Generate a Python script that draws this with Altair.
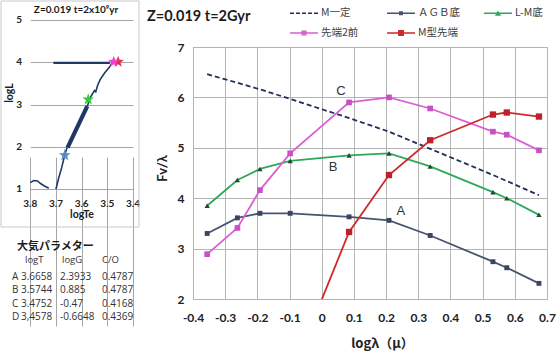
import altair as alt
import pandas as pd

# ---------------- main chart data ----------------
lam = [-0.356, -0.262, -0.192, -0.098, 0.085, 0.209, 0.337, 0.532, 0.575, 0.675]
m_const = [6.46, 6.29, 6.16, 5.97, 5.59, 5.32, 4.98, 4.46, 4.34, 4.06]
agb_base = [3.30, 3.61, 3.70, 3.70, 3.63, 3.56, 3.26, 2.74, 2.62, 2.31]
lm_base = [3.85, 4.36, 4.58, 4.74, 4.85, 4.89, 4.63, 4.12, 4.00, 3.67]
tip_before2 = [2.89, 3.41, 4.16, 4.89, 5.90, 6.00, 5.78, 5.32, 5.26, 4.95]
mtip_lam = [-0.098, 0.085, 0.209, 0.337, 0.532, 0.575, 0.675]
m_tip = [0.44, 3.33, 4.46, 5.15, 5.66, 5.70, 5.62]

series_names = ["M一定", "ＡＧＢ底", "L-M底", "先端2前", "M型先端"]
series_colors = ["#1f2f5a", "#46556f", "#2ea85a", "#d95fd2", "#cc2a2a"]
marker_colors = ["#1f2f5a", "#3a4560", "#1e4d2b", "#c94fc4", "#c0202a"]

x_ticks = [-0.4, -0.3, -0.2, -0.1, 0.0, 0.1, 0.2, 0.3, 0.4, 0.5, 0.6, 0.7]
y_ticks = [2, 3, 4, 5, 6, 7]

curve_labels = ["A", "B", "C"]
curve_label_x = [0.246, 0.035, 0.06]
curve_label_y = [3.746, 4.62, 6.127]

main_title = "Z=0.019  t=2Gyr"

# ---------------- HR diagram data ----------------
hook_te = [3.800, 3.786, 3.772, 3.760, 3.745, 3.728]
hook_l = [1.15, 1.20, 1.19, 1.13, 1.07, 1.02]
track_te = [3.700, 3.690, 3.678, 3.668, 3.657]
track_l = [1.00, 1.25, 1.50, 1.75, 1.98]
thick_te = [3.655, 3.578]
thick_l = [1.98, 2.96]
upper_te = [3.578, 3.565, 3.550, 3.545, 3.538, 3.528, 3.510, 3.492, 3.480]
upper_l = [2.96, 3.18, 3.33, 3.30, 3.45, 3.59, 3.75, 3.88, 4.00]
horiz_te = [3.710, 3.490]
horiz_l = [3.985, 3.985]
star_names = ["A", "B", "C", "D"]
star_te = [3.6658, 3.5744, 3.4752, 3.4578]
star_l = [1.80, 3.12, 4.01, 4.01]
star_colors = ["#5a8ac6", "#33cc33", "#ee3fd8", "#e0303c"]
hr_x_ticks = [3.8, 3.7, 3.6, 3.5, 3.4]
hr_x_labels = ["3.8", "3.7", "3.6", "3.5", "3.4"]
hr_y_ticks = [1, 2, 3, 4, 5]
hr_y_labels = ["1", "2", "3", "4", "5"]
hr_title = "Z=0.019 t=2x10⁹yr"

# ---------------- parameter table ----------------
param_heading = "大気パラメター"
param_header = ["logT", "logG", "C/O"]
param_names = ["A", "B", "C", "D"]
param_logT = ["3.6658", "3.5744", "3.4752", "3,4578"]
param_logG = ["2.3933", "0.885", "-0.47", "-0.6648"]
param_CO = ["0.4787", "0.4787", "0.4168", "0.4369"]

# ---------------- build tables ----------------
rows = []
for name, vals, xs_ in [
    (series_names[0], m_const, lam),
    (series_names[1], agb_base, lam),
    (series_names[2], lm_base, lam),
    (series_names[3], tip_before2, lam),
    (series_names[4], m_tip, mtip_lam),
]:
    for xv, yv in zip(xs_, vals):
        rows.append({"series": name, "lam": xv, "fv": yv})
main_df = pd.DataFrame(rows)
label_df = pd.DataFrame({"lab": curve_labels, "lam": curve_label_x, "fv": curve_label_y})

JP = "Noto Sans CJK JP"
NUM = "Lato"

x_axis = alt.Axis(values=x_ticks, labelExpr="datum.value == 0 ? '0' : toString(round(datum.value*10)/10)",
                  grid=True, gridColor="#b4b4b4", ticks=False, domain=False, labelFlush=False,
                  labelFont=NUM, labelFontWeight="bold", labelFontSize=12, labelColor="#222222",
                  labelPadding=13, title="logλ（μ）", titleFont=JP, titleFontSize=13,
                  titleFontWeight="bold", titleColor="#222222", titleX=189, titleY=44,
                  titleBaseline="middle", titleAlign="center")
y_axis = alt.Axis(values=y_ticks, grid=True, gridColor="#b4b4b4", ticks=False, domain=False,
                  labelFont=NUM, labelFontWeight="bold", labelFontSize=12, labelColor="#222222",
                  labelPadding=9, labelFlush=False, title="Fv/λ", titleFont=NUM, titleFontSize=13,
                  titleFontWeight="bold", titleColor="#222222", titleX=-31, titleY=121,
                  titleAngle=270, titleAlign="center", titleBaseline="middle")
xs = alt.Scale(domain=[-0.4, 0.7], nice=False, zero=False)
ys = alt.Scale(domain=[2, 7], nice=False, zero=False)
X = alt.X("lam:Q", scale=xs, axis=x_axis)
Y = alt.Y("fv:Q", scale=ys, axis=y_axis)

main_layers = []
for i, name in enumerate(series_names):
    kw = dict(color=series_colors[i], strokeWidth=1.8, clip=True)
    if i == 0:
        kw["strokeDash"] = [5, 3]
    main_layers.append(
        alt.Chart(main_df).mark_line(**kw).encode(x=X, y=Y).transform_filter(alt.datum.series == name)
    )
marker_sizes = {1: 24, 3: 32, 4: 40}
for i, sz in marker_sizes.items():
    main_layers.append(
        alt.Chart(main_df).mark_square(color=marker_colors[i], size=sz, opacity=1, clip=True)
        .encode(x=X, y=Y).transform_filter(alt.datum.series == series_names[i])
    )
main_layers.append(
    alt.Chart(main_df).mark_point(shape="triangle-up", filled=True, color=marker_colors[2], size=28,
                                  opacity=1, clip=True)
    .encode(x=X, y=Y).transform_filter(alt.datum.series == series_names[2])
)
main_layers.append(
    alt.Chart(label_df).mark_text(font="Liberation Sans", fontSize=13, color="#333333")
    .encode(x=X, y=Y, text="lab:N")
)

# legend-only layer
def bar(a, b, h=0.055):
    return f"M{a},{-h}H{b}V{h}H{a}Z"
def sq(r):
    return f"M{-r},{-r}H{r}V{r}H{-r}Z"
dash_path = " ".join(bar(a, b) for a, b in [(-1, -0.714), (-0.571, -0.286), (-0.143, 0.143), (0.286, 0.571), (0.714, 1)])
legend_paths = [
    dash_path,
    bar(-1, 1) + " " + sq(0.14),
    bar(-1, 1) + " M0,-0.2L0.22,0.17H-0.22Z",
    bar(-1, 1) + " " + sq(0.18),
    bar(-1, 1) + " " + sq(0.21),
]
leg = alt.Legend(orient="none", legendX=97, legendY=-48, direction="horizontal", columns=3,
                 gridAlign="all", title=None, symbolSize=784, symbolStrokeWidth=0, labelFont=JP,
                 labelFontSize=10.5, labelColor="#404040", labelOffset=3, columnPadding=24, rowPadding=-8)
legend_layer = alt.Chart(main_df).mark_point(filled=True, opacity=1).encode(
    x=X, y=Y,
    color=alt.Color("series:N", scale=alt.Scale(domain=series_names, range=series_colors), legend=leg),
    shape=alt.Shape("series:N", scale=alt.Scale(domain=series_names, range=legend_paths), legend=leg),
).transform_filter("false")
main_layers.append(legend_layer)
main = alt.layer(*main_layers)

# ---------------- HR inset ----------------
hr_rows = []
for seg, tes, ls in [("hook", hook_te, hook_l), ("track", track_te, track_l), ("thick", thick_te, thick_l),
                     ("upper", upper_te, upper_l), ("horiz", horiz_te, horiz_l)]:
    for k, (t, l) in enumerate(zip(tes, ls)):
        hr_rows.append({"seg": seg, "te": t, "lg": l, "k": k})
hr_df = pd.DataFrame(hr_rows)
star_df = pd.DataFrame({"star": star_names, "te": star_te, "lg": star_l})
hr_xt_df = pd.DataFrame({"te": hr_x_ticks, "txt": hr_x_labels})
hr_yt_df = pd.DataFrame({"lg": hr_y_ticks, "txt": hr_y_labels})

hx_axis = alt.Axis(orient="bottom", offset=-110, values=hr_x_ticks, grid=True, gridColor="#a6a6a6",
                   ticks=False, domain=False, labels=False, title=None)
hy_axis = alt.Axis(orient="left", offset=162.7, values=hr_y_ticks, grid=True, gridColor="#a6a6a6",
                   ticks=False, domain=False, labels=False, title=None)
HX = alt.X("te:Q", scale=alt.Scale(domain=[3.4, 3.8], range=[-60, -162.7], nice=False, zero=False), axis=hx_axis)
HY = alt.Y("lg:Q", scale=alt.Scale(domain=[1, 5], range=[142, -27], nice=False, zero=False), axis=hy_axis)

hr_layers = []
for seg, w in [("hook", 1.6), ("track", 1.6), ("thick", 4.2), ("upper", 1.6), ("horiz", 2.2)]:
    hr_layers.append(
        alt.Chart(hr_df).mark_line(color="#1f3864", strokeWidth=w)
        .encode(x=HX, y=HY, order="k:Q").transform_filter(alt.datum.seg == seg)
    )
star_path = ("M0,-1L0.235,-0.324L0.951,-0.309L0.380,0.124L0.588,0.809L0,0.4L-0.588,0.809"
             "L-0.380,0.124L-0.951,-0.309L-0.235,-0.324Z")
for idx in [0, 1, 3, 2]:
    hr_layers.append(
        alt.Chart(star_df).mark_point(shape=star_path, filled=True, color=star_colors[idx], size=150, opacity=1)
        .encode(x=HX, y=HY).transform_filter(alt.datum.star == star_names[idx])
    )
# HR tick labels, placed through the HR scales
hr_layers.append(
    alt.Chart(hr_xt_df).mark_text(font=NUM, fontSize=10, fontWeight="bold", color="#222222",
                                  align="center", baseline="middle")
    .encode(x=HX, y=alt.value(156.5), text="txt:N")
)
hr_layers.append(
    alt.Chart(hr_yt_df).mark_text(font=NUM, fontSize=10, fontWeight="bold", color="#222222",
                                  align="right", baseline="middle")
    .encode(y=HY, x=alt.value(-171), text="txt:N")
)
hr = alt.layer(*hr_layers)

# ---------------- decorations / text ----------------
one = pd.DataFrame({"k": [0]})
def txt(text, x, y, font=NUM, size=10.5, weight="normal", color="#222222", align="center", angle=0):
    return alt.Chart(one).mark_text(font=font, fontSize=size, fontWeight=weight, color=color,
                                    align=align, baseline="middle", angle=angle).encode(
        x=alt.value(x), y=alt.value(y), text=alt.value(text))

frame = alt.Chart(one).mark_rect(filled=False, color="#c8c8c8", strokeWidth=1).encode(
    x=alt.value(-192), x2=alt.value(-54), y=alt.value(-46), y2=alt.value(180))
deco = [
    frame,
    txt(main_title, -46, -30, size=14.5, weight="bold", color="#1a1a1a", align="left"),
    txt(hr_title, -117, -37, size=10, weight="bold", color="#1a1a1a"),
    txt("logTe", -111, 167.5, size=10.5, weight="bold"),
    txt("logL", -183, 46, size=10.5, weight="bold", angle=270),
    txt(param_heading, -176, 200, font=JP, size=11, weight="bold", color="#1a1a1a", align="left"),
]
for t, xv in zip(param_header, [-168, -131, -91]):
    deco.append(txt(t, xv, 213, font="Open Sans", size=9.5, color="#333333", align="left"))
for col, xv in zip([param_names, param_logT, param_logG, param_CO], [-181, -172, -133, -91]):
    deco.append(alt.Chart(one).mark_text(font="Open Sans", fontSize=10, color="#333333",
                                         align="left", baseline="top", lineHeight=13.3).encode(
        x=alt.value(xv), y=alt.value(225), text=alt.value(col)))

chart = alt.layer(main, hr, *deco).resolve_scale(
    x="independent", y="independent"
).properties(
    width=354, height=252,
    padding={"left": 193, "top": 47, "right": 13, "bottom": 55},
    autosize=alt.AutoSizeParams(type="none"),
    background="white",
).configure_view(stroke="#a0a0a0", strokeWidth=1)

chart.save("out.html", embed_options={"renderer": "svg", "actions": False})
